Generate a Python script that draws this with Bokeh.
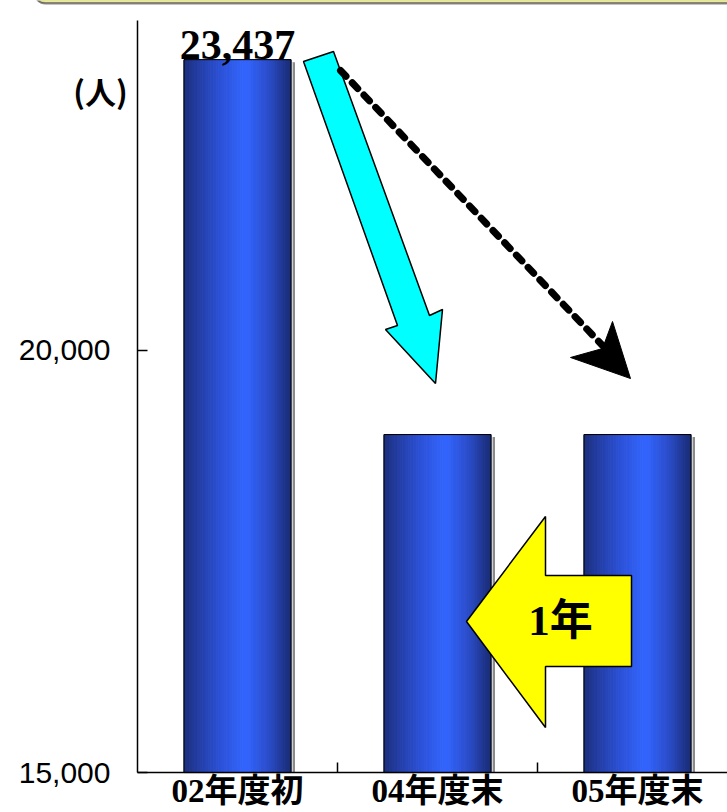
import numpy as np
from bokeh.plotting import figure
from bokeh.models import (Range1d, FixedTicker, NumeralTickFormatter, Label,
                          BoxAnnotation, LinearAxis)
from bokeh.core.properties import value
from bokeh.embed import file_html
from bokeh.resources import INLINE

# ---- data -------------------------------------------------------------
categories = ["02年度初", "04年度末", "05年度末"]
counts = [23437, 19000, 19000]
value_labels = ["23,437", "", ""]
y_ticks = [15000, 20000]
unit_label = "(人)"
shift_label = "1年"

# ---- figure -----------------------------------------------------------
Y0 = 15000           # axis baseline
Y_AXIS_TOP = 23900   # where the value axis line stops
Y_VIEW_TOP = 24137   # top of the drawing area (room for the callout edge)
Y_VIEW_BOTTOM = 14527  # room below the baseline for the category labels
X_VIEW_LEFT = -0.685
X_VIEW_RIGHT = 2.95
BAR_W = 0.535
xs = [i + 0.5 for i in range(len(categories))]

p = figure(frame_width=727, frame_height=812,
           x_range=Range1d(X_VIEW_LEFT, X_VIEW_RIGHT),
           y_range=Range1d(Y_VIEW_BOTTOM, Y_VIEW_TOP),
           x_axis_location=None, y_axis_location=None,
           output_backend="svg", toolbar_location=None,
           min_border_left=0, min_border_right=0,
           min_border_top=0, min_border_bottom=0)
p.xgrid.visible = False
p.ygrid.visible = False
p.outline_line_color = None

# ---- callout box edge at the very top ---------------------------------
p.add_layout(BoxAnnotation(left=-0.52, right=3.5, bottom=24090, top=26000,
                           fill_color="#8a8a8a", fill_alpha=1, line_color=None,
                           border_radius=12, level="underlay"))
p.add_layout(BoxAnnotation(left=-0.52, right=3.5, bottom=24112, top=26000,
                           fill_color="#ffff99", fill_alpha=1, line_color="black",
                           line_width=1.5, border_radius=12, level="underlay"))

# ---- cylinder-like bars: shadow, then shaded strips, then outline ----
p.vbar(x=[x + 0.02 for x in xs], width=BAR_W, top=[v - 30 for v in counts],
       bottom=Y0, fill_color="#8c8c8c", line_color=None)
p.vbar(x=[x + 0.008 for x in xs], width=BAR_W, top=[v - 30 for v in counts],
       bottom=Y0, fill_color="white", line_color=None)

stops_t = [0.0, 0.10, 0.35, 0.58, 0.80, 1.0]
stops_rgb = [(0x1c, 0x2e, 0x78), (0x22, 0x3a, 0x9a), (0x2c, 0x52, 0xd8),
             (0x33, 0x66, 0xff), (0x2a, 0x4c, 0xc8), (0x1a, 0x2c, 0x74)]
N = 40
lefts, rights, tops, colors = [], [], [], []
for xc, v in zip(xs, counts):
    edges = np.linspace(xc - BAR_W / 2, xc + BAR_W / 2, N + 1)
    for k in range(N):
        t = (k + 0.5) / N
        r, g, b = (int(round(np.interp(t, stops_t, [c[j] for c in stops_rgb])))
                   for j in range(3))
        lefts.append(edges[k])
        rights.append(edges[k + 1])
        tops.append(v)
        colors.append(f"#{r:02x}{g:02x}{b:02x}")
p.quad(left=lefts, right=rights, top=tops, bottom=Y0,
       fill_color=colors, line_color=colors, line_width=1)
p.vbar(x=xs, width=BAR_W, top=counts, bottom=Y0,
       fill_color=None, line_color="black", line_width=1)

# value label above the first bar
p.text(x=xs, y=counts, text=value_labels, text_align="center",
       text_baseline="bottom", y_offset=-1,
       text_font=value("Liberation Serif"), text_font_style="bold",
       text_font_size="42px", text_color="black")

# ---- arrows ------------------------------------------------------------
# cyan block arrow from the first bar down towards the second
p.patch([0.83, 0.98, 1.46, 1.525, 1.49, 1.24, 1.30],
        [23415, 23533, 20409, 20480, 19604, 20243, 20291],
        fill_color="#00ffff", line_color="black", line_width=1.5)

# dashed arrow from the first bar towards the third
p.line([1.015, 2.325], [23309, 20054], line_color="black", line_width=7,
       line_dash="8 9", line_cap="round")
p.patch([2.465, 2.375, 2.325, 2.165], [19663, 20338, 20018, 19912],
        fill_color="black", line_color="black", line_width=1)

# yellow arrow pointing back one year
p.patch([1.645, 2.04, 2.04, 2.47, 2.47, 2.04, 2.04],
        [16787, 18030, 17332, 17332, 16255, 16255, 15533],
        fill_color="#ffff00", line_color="black", line_width=1.5)
p.text(x=[2.115], y=[16800], text=[shift_label], text_align="center",
       text_baseline="middle",
       text_font=value("'Liberation Serif', 'Noto Sans CJK JP'"),
       text_font_style="bold", text_font_size="43px", text_color="black")

# unit label left of the axis top
p.add_layout(Label(x=-0.185, y=23070, text=unit_label, text_align="center",
                   text_baseline="middle", text_font="Noto Sans CJK JP",
                   text_font_style="bold", text_font_size="31px",
                   text_color="black"))

# ---- axes (pinned to the baseline / x = 0 inside the drawing area) ----
yaxis = LinearAxis(fixed_location=0, bounds=(Y0, Y_AXIS_TOP))
yaxis.ticker = FixedTicker(ticks=y_ticks, minor_ticks=[])
yaxis.formatter = NumeralTickFormatter(format="0,0")
yaxis.major_tick_in = 10
yaxis.major_tick_out = 0
yaxis.major_tick_line_color = "black"
yaxis.major_tick_line_width = 1.5
yaxis.axis_line_color = "black"
yaxis.axis_line_width = 1.5
yaxis.major_label_standoff = 27
yaxis.major_label_text_font = "Liberation Sans"
yaxis.major_label_text_font_size = "30px"
yaxis.major_label_text_color = "black"
p.add_layout(yaxis, "left")

xaxis = LinearAxis(fixed_location=Y0, bounds=(0, X_VIEW_RIGHT))
xaxis.ticker = FixedTicker(ticks=xs, minor_ticks=[1, 2])
xaxis.major_label_overrides = {x: c for x, c in zip(xs, categories)}
xaxis.major_tick_line_color = None
xaxis.major_tick_in = 0
xaxis.major_tick_out = 0
xaxis.minor_tick_in = 10
xaxis.minor_tick_out = 0
xaxis.minor_tick_line_color = "black"
xaxis.minor_tick_line_width = 1.5
xaxis.axis_line_color = "black"
xaxis.axis_line_width = 1.5
xaxis.major_label_standoff = 0
xaxis.major_label_text_font = "'Liberation Serif', 'Noto Sans CJK JP'"
xaxis.major_label_text_font_style = "bold"
xaxis.major_label_text_font_size = "33px"
xaxis.major_label_text_color = "black"
p.add_layout(xaxis, "below")

open("out.html", "w").write(file_html(p, INLINE))
